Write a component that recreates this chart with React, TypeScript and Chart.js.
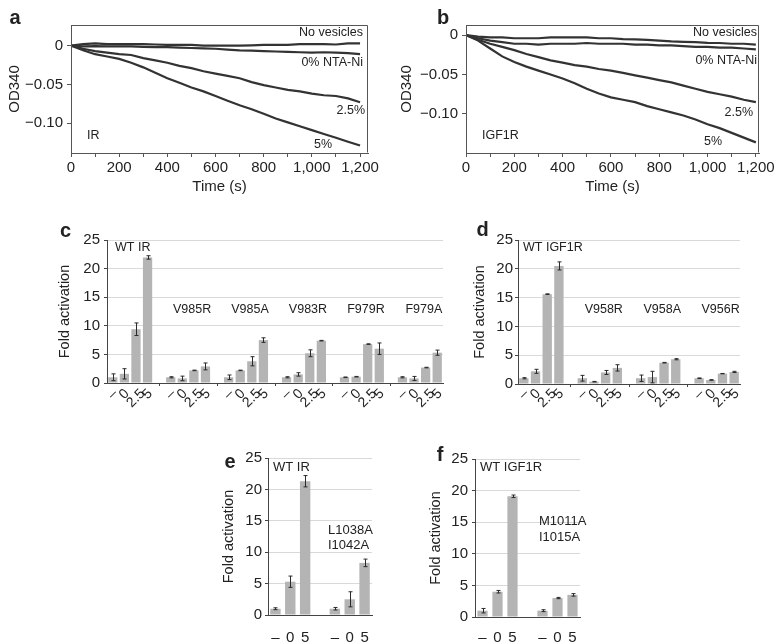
import React, { useEffect, useRef } from 'react';
import { Chart, registerables } from 'chart.js';

Chart.register(...registerables);

const FAMILY = "'Liberation Sans', Arial, Helvetica, sans-serif";
const INK = '#222222';
const AXIS = '#444444';
const GRID = '#d9d9d9';
const BAR = '#b4b4b4';
const CURVE = '#333333';

// ---------- panels a, b : OD340 time courses ----------
const timeS = [0, 50, 100, 150, 200, 250, 300, 350, 400, 450, 500, 550, 600, 650, 700, 750, 800, 850, 900, 950, 1000, 1050, 1100, 1150, 1200];

const irNoVesicles = [0, 0.002, 0.003, 0.002, 0.002, 0.002, 0.002, 0.0015, 0.001, 0.001, 0.001, 0.0, 0.0, 0.0, 0.0, 0.0005, 0.001, 0.001, 0.001, 0.002, 0.002, 0.002, 0.0015, 0.003, 0.003];
const irZeroNTA = [0, -0.001, -0.0005, -0.001, -0.001, -0.001, -0.0015, -0.002, -0.002, -0.0025, -0.003, -0.0035, -0.004, -0.005, -0.006, -0.0065, -0.007, -0.0075, -0.008, -0.0085, -0.009, -0.0085, -0.009, -0.0095, -0.011];
const irTwoHalf = [0, -0.004, -0.007, -0.009, -0.011, -0.012, -0.016, -0.019, -0.022, -0.026, -0.029, -0.033, -0.036, -0.039, -0.042, -0.047, -0.051, -0.054, -0.057, -0.059, -0.062, -0.064, -0.065, -0.068, -0.073];
const irFive = [0, -0.006, -0.011, -0.014, -0.017, -0.022, -0.028, -0.035, -0.042, -0.048, -0.054, -0.059, -0.065, -0.071, -0.077, -0.082, -0.088, -0.094, -0.099, -0.104, -0.109, -0.114, -0.119, -0.124, -0.129];

const igfNoVesicles = [0, -0.002, -0.003, -0.003, -0.004, -0.004, -0.004, -0.003, -0.003, -0.003, -0.003, -0.004, -0.004, -0.005, -0.0055, -0.006, -0.007, -0.008, -0.0085, -0.009, -0.0098, -0.01, -0.011, -0.011, -0.012];
const igfZeroNTA = [0, -0.004, -0.007, -0.009, -0.011, -0.011, -0.012, -0.011, -0.011, -0.011, -0.01, -0.011, -0.011, -0.011, -0.012, -0.012, -0.013, -0.013, -0.014, -0.015, -0.015, -0.016, -0.016, -0.017, -0.018];
const igfTwoHalf = [0, -0.006, -0.011, -0.015, -0.019, -0.024, -0.028, -0.032, -0.035, -0.038, -0.04, -0.043, -0.045, -0.048, -0.051, -0.054, -0.057, -0.06, -0.064, -0.068, -0.072, -0.075, -0.078, -0.082, -0.085];
const igfFive = [0, -0.007, -0.017, -0.027, -0.034, -0.04, -0.045, -0.05, -0.055, -0.061, -0.068, -0.074, -0.079, -0.082, -0.085, -0.09, -0.094, -0.098, -0.102, -0.107, -0.113, -0.118, -0.124, -0.13, -0.136];

// ---------- panels c, d : fold activation, 4 doses ----------
const doseLabels4 = ['–', '0', '2.5', '5'];

const irGroupNames = ['WT IR', 'V985R', 'V985A', 'V983R', 'F979R', 'F979A'];
const irGroupValues = [
  [1.0, 1.6, 9.4, 21.95],
  [1.0, 0.8, 2.2, 2.9],
  [1.0, 2.2, 3.8, 7.5],
  [1.0, 1.5, 5.2, 7.4],
  [1.0, 1.1, 6.8, 6.0],
  [1.0, 0.8, 2.7, 5.3],
];
const irGroupErrors = [
  [0.6, 0.9, 1.1, 0.3],
  [0.1, 0.4, 0.05, 0.6],
  [0.4, 0.05, 0.8, 0.4],
  [0.1, 0.3, 0.6, 0.05],
  [0.05, 0.05, 0.05, 1.0],
  [0.1, 0.35, 0.05, 0.45],
];

const igfGroupNames = ['WT IGF1R', 'V958R', 'V958A', 'V956R'];
const igfGroupValues = [
  [1.0, 2.2, 15.6, 20.5],
  [1.0, 0.4, 2.0, 2.8],
  [1.0, 1.2, 3.7, 4.3],
  [1.0, 0.7, 1.8, 2.1],
];
const igfGroupErrors = [
  [0.1, 0.35, 0.05, 0.7],
  [0.5, 0.05, 0.35, 0.55],
  [0.55, 1.0, 0.05, 0.1],
  [0.05, 0.05, 0.03, 0.1],
];

// ---------- panels e, f : fold activation, 3 doses ----------
const doseLabels3 = ['–', '0', '5'];
const irDoubleNames = ['WT IR', 'L1038A I1042A'];
const irDoubleValues = [
  [1.0, 5.3, 21.3],
  [1.0, 2.5, 8.3],
];
const irDoubleErrors = [
  [0.15, 0.9, 0.9],
  [0.2, 1.2, 0.6],
];
const igfDoubleNames = ['WT IGF1R', 'M1011A I1015A'];
const igfDoubleValues = [
  [1.0, 4.0, 19.1],
  [1.0, 3.0, 3.5],
];
const igfDoubleErrors = [
  [0.35, 0.2, 0.2],
  [0.15, 0.1, 0.2],
];

// ---------- helpers ----------
type Box = { left: number; top: number; width: number; height: number };
type Note = { text: string; x: number; y: number; align?: CanvasTextAlign; size?: number; bold?: boolean };

function buildGrouped(values: number[][], errors: number[][], doses: string[]) {
  const cats: string[] = [];
  const vals: (number | null)[] = [];
  const errs: (number | null)[] = [];
  const spans: { first: number; last: number }[] = [];
  values.forEach((g, gi) => {
    if (gi > 0) {
      cats.push('');
      vals.push(null);
      errs.push(null);
    }
    const first = cats.length;
    g.forEach((v, i) => {
      cats.push(doses[i]);
      vals.push(v);
      errs.push(errors[gi][i]);
    });
    spans.push({ first, last: cats.length - 1 });
  });
  return { cats, vals, errs, spans };
}

function notesPlugin(box: Box, notes: Note[]) {
  return {
    id: 'notes',
    afterDraw(chart: any) {
      const ctx = chart.ctx as CanvasRenderingContext2D;
      ctx.save();
      ctx.fillStyle = INK;
      ctx.textBaseline = 'middle';
      for (const n of notes) {
        ctx.font = `${n.bold ? 'bold ' : ''}${n.size ?? 12.5}px ${FAMILY}`;
        ctx.textAlign = n.align ?? 'left';
        ctx.fillText(n.text, n.x - box.left, n.y - box.top);
      }
      ctx.restore();
    },
  };
}

const framePlugin = {
  id: 'frame',
  afterDraw(chart: any) {
    const { ctx, chartArea } = chart;
    const l = Math.round(chartArea.left) + 0.5;
    const t = Math.round(chartArea.top) + 0.5;
    const r = Math.round(chartArea.right) - 0.5;
    const b = Math.round(chartArea.bottom) - 0.5;
    ctx.save();
    ctx.strokeStyle = '#555555';
    ctx.lineWidth = 1;
    ctx.beginPath();
    ctx.moveTo(l, b);
    ctx.lineTo(l, t);
    ctx.lineTo(r, t);
    ctx.lineTo(r, b);
    ctx.stroke();
    ctx.restore();
  },
};

function errorPlugin(errs: (number | null)[]) {
  return {
    id: 'errbars',
    afterDatasetsDraw(chart: any) {
      const ctx = chart.ctx as CanvasRenderingContext2D;
      const meta = chart.getDatasetMeta(0);
      const ys = chart.scales.y;
      const data = chart.data.datasets[0].data as (number | null)[];
      ctx.save();
      ctx.strokeStyle = '#2a2a2a';
      ctx.lineWidth = 1;
      data.forEach((v, i) => {
        const e = errs[i];
        if (v == null || e == null) return;
        const x = Math.round(meta.data[i].x) + 0.5;
        const y1 = ys.getPixelForValue(v + e);
        const y2 = ys.getPixelForValue(Math.max(0, v - e));
        ctx.beginPath();
        ctx.moveTo(x, y1);
        ctx.lineTo(x, y2);
        ctx.moveTo(x - 2, y1);
        ctx.lineTo(x + 2, y1);
        ctx.moveTo(x - 2, y2);
        ctx.lineTo(x + 2, y2);
        ctx.stroke();
      });
      ctx.restore();
    },
  };
}

function rotatedLabelsPlugin(cats: string[], topY: number) {
  return {
    id: 'rotlabels',
    afterDraw(chart: any) {
      const ctx = chart.ctx as CanvasRenderingContext2D;
      const xs = chart.scales.x;
      ctx.save();
      ctx.font = `14px ${FAMILY}`;
      ctx.fillStyle = INK;
      ctx.textAlign = 'center';
      ctx.textBaseline = 'middle';
      cats.forEach((c, i) => {
        if (!c) return;
        const w = ctx.measureText(c).width;
        const cx = xs.getPixelForValue(i);
        const cy = topY + ((w + 10) * 0.7071) / 2;
        ctx.save();
        ctx.translate(cx, cy);
        ctx.rotate(-Math.PI / 4);
        ctx.fillText(c, 0, 0);
        ctx.restore();
      });
      ctx.restore();
    },
  };
}

function groupLabelsPlugin(names: string[], spans: { first: number; last: number }[], yLocal: number, skipFirst: boolean) {
  return {
    id: 'grouplabels',
    afterDraw(chart: any) {
      const ctx = chart.ctx as CanvasRenderingContext2D;
      const xs = chart.scales.x;
      ctx.save();
      ctx.font = `12.5px ${FAMILY}`;
      ctx.fillStyle = INK;
      ctx.textAlign = 'center';
      ctx.textBaseline = 'middle';
      spans.forEach((s, i) => {
        if (skipFirst && i === 0) return;
        const cx = (xs.getPixelForValue(s.first) + xs.getPixelForValue(s.last)) / 2 + 4;
        ctx.fillText(names[i], cx, yLocal);
      });
      ctx.restore();
    },
  };
}

// ---------- line panels ----------
type LineSpec = {
  box: Box;
  series: number[][];
  yMin: number;
  yMax: number;
  xMax: number;
  yWidth: number;
  xHeight: number;
  padRight: number;
  padTop: number;
  yTitlePad: number;
  notes: Note[];
};

function lineConfig(s: LineSpec): any {
  return {
    type: 'line',
    data: {
      datasets: s.series.map((ser) => ({
        data: timeS.map((t, i) => ({ x: t, y: ser[i] })),
        borderColor: CURVE,
        borderWidth: 2.2,
        pointRadius: 0,
        tension: 0,
        fill: false,
      })),
    },
    options: {
      animation: false,
      responsive: false,
      events: [],
      layout: { padding: { top: s.padTop, right: s.padRight, bottom: 0, left: 0 } },
      plugins: { legend: { display: false }, tooltip: { enabled: false } },
      scales: {
        x: {
          type: 'linear',
          min: 0,
          max: s.xMax,
          afterFit: (sc: any) => {
            sc.height = s.xHeight;
          },
          border: { color: '#555555', width: 1 },
          grid: { display: true, drawOnChartArea: false, drawTicks: true, tickLength: 4, color: '#555555' },
          ticks: {
            stepSize: 100,
            includeBounds: false,
            autoSkip: false,
            maxRotation: 0,
            padding: 2,
            color: INK,
            font: { size: 15, family: FAMILY },
            callback: (v: number) => (Math.round(v) % 200 === 0 ? Math.round(v).toLocaleString('en-US') : ''),
          },
          title: {
            display: true,
            text: 'Time (s)',
            color: INK,
            font: { size: 15, family: FAMILY },
            padding: { top: 0, bottom: 4 },
          },
        },
        y: {
          type: 'linear',
          min: s.yMin,
          max: s.yMax,
          afterFit: (sc: any) => {
            sc.width = s.yWidth;
          },
          border: { color: '#555555', width: 1 },
          grid: { display: true, drawOnChartArea: false, drawTicks: true, tickLength: 4, color: '#555555' },
          ticks: {
            stepSize: 0.05,
            includeBounds: false,
            padding: 4,
            color: INK,
            font: { size: 15, family: FAMILY },
            callback: (v: number) => (Math.abs(v) < 1e-9 ? '0' : (v < 0 ? '\u2212' : '') + Math.abs(v).toFixed(2)),
          },
          title: {
            display: true,
            text: 'OD340',
            color: INK,
            font: { size: 15, family: FAMILY },
            padding: { top: s.yTitlePad, bottom: 0 },
          },
        },
      },
    },
    plugins: [framePlugin, notesPlugin(s.box, s.notes)],
  };
}

// ---------- bar panels ----------
type BarSpec = {
  box: Box;
  cats: string[];
  vals: (number | null)[];
  errs: (number | null)[];
  yWidth: number;
  xHeight: number;
  padRight: number;
  padTop: number;
  yTitlePad: number;
  yTickPad: number;
  barPct: number;
  rotated: boolean;
  xTickPad: number;
  extra: any[];
  notes: Note[];
};

function barConfig(s: BarSpec): any {
  return {
    type: 'bar',
    data: {
      labels: s.cats,
      datasets: [
        {
          data: s.vals,
          backgroundColor: BAR,
          borderWidth: 0,
          categoryPercentage: 1,
          barPercentage: s.barPct,
        },
      ],
    },
    options: {
      animation: false,
      responsive: false,
      events: [],
      layout: { padding: { top: s.padTop, right: s.padRight, bottom: 0, left: 0 } },
      plugins: { legend: { display: false }, tooltip: { enabled: false } },
      scales: {
        x: {
          type: 'category',
          afterFit: (sc: any) => {
            sc.height = s.xHeight;
          },
          border: { color: AXIS, width: 1 },
          grid: s.rotated
            ? {
                display: true,
                offset: false,
                drawOnChartArea: false,
                drawTicks: true,
                tickLength: 3,
                color: (ctx: any) => (s.cats[ctx.index] === '' ? AXIS : 'rgba(0,0,0,0)'),
              }
            : { display: false },
          ticks: {
            display: !s.rotated,
            autoSkip: false,
            maxRotation: 0,
            minRotation: 0,
            padding: s.xTickPad,
            color: INK,
            font: { size: 15, family: FAMILY },
          },
        },
        y: {
          type: 'linear',
          min: 0,
          max: 25,
          afterFit: (sc: any) => {
            sc.width = s.yWidth;
          },
          border: { color: AXIS, width: 1 },
          grid: { display: true, color: GRID, tickColor: AXIS, drawTicks: true, tickLength: 3 },
          ticks: {
            stepSize: 5,
            padding: s.yTickPad,
            color: INK,
            font: { size: 15, family: FAMILY },
          },
          title: {
            display: true,
            text: 'Fold activation',
            color: INK,
            font: { size: 14.5, family: FAMILY },
            padding: { top: s.yTitlePad, bottom: 0 },
          },
        },
      },
    },
    plugins: [errorPlugin(s.errs), ...s.extra, notesPlugin(s.box, s.notes)],
  };
}

// ---------- panel definitions ----------
const boxA: Box = { left: 0, top: 0, width: 385, height: 200 };
const boxB: Box = { left: 390, top: 0, width: 392, height: 200 };
const boxC: Box = { left: 0, top: 200, width: 452, height: 225 };
const boxD: Box = { left: 455, top: 200, width: 327, height: 225 };
const boxE: Box = { left: 195, top: 430, width: 190, height: 214 };
const boxF: Box = { left: 400, top: 430, width: 190, height: 214 };

const buildA = () =>
  lineConfig({
    box: boxA,
    series: [irNoVesicles, irZeroNTA, irTwoHalf, irFive],
    yMin: -0.1386,
    yMax: 0.0267,
    xMax: 1233,
    yWidth: 71,
    xHeight: 47,
    padRight: 17,
    padTop: 25,
    yTitlePad: 6,
    notes: [
      { text: 'a', x: 15, y: 18, align: 'center', size: 20, bold: true },
      { text: 'No vesicles', x: 363, y: 33, align: 'right' },
      { text: '0% NTA-Ni', x: 363, y: 63, align: 'right' },
      { text: '2.5%', x: 365, y: 111, align: 'right' },
      { text: '5%', x: 323, y: 145, align: 'center' },
      { text: 'IR', x: 87, y: 136, align: 'left' },
    ],
  });

const buildB = () =>
  lineConfig({
    box: boxB,
    series: [igfNoVesicles, igfZeroNTA, igfTwoHalf, igfFive],
    yMin: -0.1495,
    yMax: 0.0128,
    xMax: 1213,
    yWidth: 76,
    xHeight: 47,
    padRight: 23,
    padTop: 25,
    yTitlePad: 7.7,
    notes: [
      { text: 'b', x: 443, y: 18, align: 'center', size: 20, bold: true },
      { text: 'No vesicles', x: 757, y: 33, align: 'right' },
      { text: '0% NTA-Ni', x: 757, y: 61, align: 'right' },
      { text: '2.5%', x: 753, y: 113, align: 'right' },
      { text: '5%', x: 713, y: 142, align: 'center' },
      { text: 'IGF1R', x: 482, y: 136, align: 'left' },
    ],
  });

const tableC = buildGrouped(irGroupValues, irGroupErrors, doseLabels4);
const tableD = buildGrouped(igfGroupValues, igfGroupErrors, doseLabels4);
const tableE = buildGrouped(irDoubleValues, irDoubleErrors, doseLabels3);
const tableF = buildGrouped(igfDoubleValues, igfDoubleErrors, doseLabels3);

const buildC = () =>
  barConfig({
    box: boxC,
    cats: tableC.cats,
    vals: tableC.vals,
    errs: tableC.errs,
    yWidth: 107,
    xHeight: 42,
    padRight: 9,
    padTop: 40,
    yTitlePad: 56.3,
    yTickPad: 4,
    barPct: 0.8,
    rotated: true,
    xTickPad: 4,
    extra: [rotatedLabelsPlugin(tableC.cats, 188), groupLabelsPlugin(irGroupNames, tableC.spans, 110, true)],
    notes: [
      { text: 'c', x: 65.5, y: 231, align: 'center', size: 20, bold: true },
      { text: irGroupNames[0], x: 115, y: 248, align: 'left' },
    ],
  });

const buildD = () =>
  barConfig({
    box: boxD,
    cats: tableD.cats,
    vals: tableD.vals,
    errs: tableD.errs,
    yWidth: 63,
    xHeight: 41,
    padRight: 42,
    padTop: 40,
    yTitlePad: 16.3,
    yTickPad: 2,
    barPct: 0.8,
    rotated: true,
    xTickPad: 4,
    extra: [rotatedLabelsPlugin(tableD.cats, 188), groupLabelsPlugin(igfGroupNames, tableD.spans, 110, true)],
    notes: [
      { text: 'd', x: 482.5, y: 230, align: 'center', size: 20, bold: true },
      { text: igfGroupNames[0], x: 523, y: 248, align: 'left' },
    ],
  });

const buildE = () =>
  barConfig({
    box: boxE,
    cats: tableE.cats,
    vals: tableE.vals,
    errs: tableE.errs,
    yWidth: 73,
    xHeight: 29,
    padRight: 13,
    padTop: 28,
    yTitlePad: 25.3,
    yTickPad: 3,
    barPct: 0.7,
    rotated: false,
    xTickPad: 6,
    extra: [],
    notes: [
      { text: 'e', x: 230, y: 462, align: 'center', size: 20, bold: true },
      { text: irDoubleNames[0], x: 273, y: 467, align: 'left', size: 13 },
      { text: irDoubleNames[1].split(' ')[0], x: 328, y: 530, align: 'left', size: 13 },
      { text: irDoubleNames[1].split(' ')[1], x: 328, y: 545, align: 'left', size: 13 },
    ],
  });

const buildF = () =>
  barConfig({
    box: boxF,
    cats: tableF.cats,
    vals: tableF.vals,
    errs: tableF.errs,
    yWidth: 75,
    xHeight: 27,
    padRight: 10,
    padTop: 29,
    yTitlePad: 27.3,
    yTickPad: 4,
    barPct: 0.68,
    rotated: false,
    xTickPad: 4,
    extra: [],
    notes: [
      { text: 'f', x: 440, y: 455, align: 'center', size: 20, bold: true },
      { text: igfDoubleNames[0], x: 480, y: 467, align: 'left', size: 13 },
      { text: igfDoubleNames[1].split(' ')[0], x: 539, y: 521, align: 'left', size: 13 },
      { text: igfDoubleNames[1].split(' ')[1], x: 539, y: 537, align: 'left', size: 13 },
    ],
  });

function Panel({ box, build }: { box: Box; build: () => any }) {
  const ref = useRef<HTMLCanvasElement | null>(null);
  useEffect(() => {
    if (!ref.current) return;
    const chart = new Chart(ref.current, build());
    return () => chart.destroy();
  }, []);
  return (
    <canvas
      ref={ref}
      width={box.width}
      height={box.height}
      style={{ position: 'absolute', left: box.left, top: box.top, width: box.width, height: box.height }}
    />
  );
}

export default function App() {
  return (
    <div style={{ position: 'absolute', left: 0, top: 0, width: 782, height: 644, background: '#ffffff', overflow: 'hidden' }}>
      <Panel box={boxA} build={buildA} />
      <Panel box={boxB} build={buildB} />
      <Panel box={boxC} build={buildC} />
      <Panel box={boxD} build={buildD} />
      <Panel box={boxE} build={buildE} />
      <Panel box={boxF} build={buildF} />
    </div>
  );
}
